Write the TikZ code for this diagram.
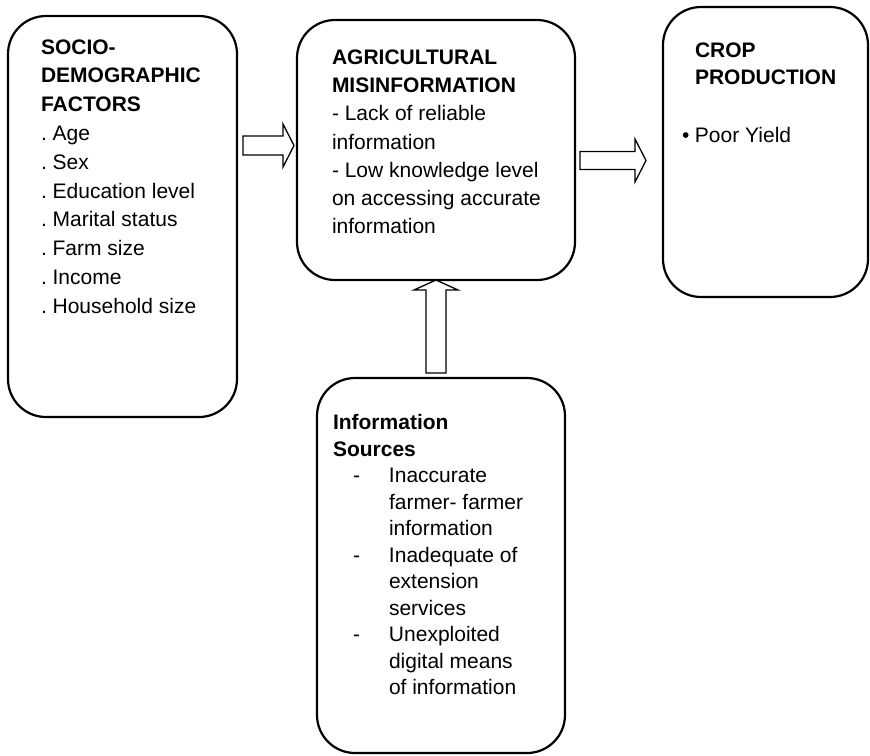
\documentclass[tikz,border=0pt]{standalone}
\usepackage{fontspec}
\setmainfont{Liberation Sans}
\usetikzlibrary{calc}
\frenchspacing
\begin{document}
\begin{tikzpicture}[x=1pt,y=-1pt,
  every node/.style={inner sep=0pt,outer sep=0pt},
  box/.style={draw,line width=2.2pt,rounded corners=38pt,rectangle,anchor=north west},
  txt/.style={anchor=north west,align=left},
  blockarrow/.style={draw,line width=1.3pt,fill=white,line join=miter}]
\useasboundingbox (0,0) rectangle (870,755);
% boxes
\node[box,minimum width=229pt,minimum height=401pt] (b1) at (8,16) {};
\node[box,minimum width=278pt,minimum height=260pt] (b2) at (297,20) {};
\node[box,minimum width=205pt,minimum height=290pt] (b3) at (663,7) {};
\node[box,minimum width=248pt,minimum height=375pt] (b4) at (317,378) {};
% texts
\node[txt,font=\fontsize{21pt}{28.8pt}\selectfont\frenchspacing] (t1) at (41,39.5)
 {\textbf{SOCIO-}\\\textbf{DEMOGRAPHIC}\\\textbf{FACTORS}\\. Age\\. Sex\\. Education level\\. Marital status\\. Farm size\\. Income\\. Household size};
\node[txt,font=\fontsize{21pt}{28.3pt}\selectfont] (t2) at (332,49.5)
 {\textbf{AGRICULTURAL}\\\textbf{MISINFORMATION}\\- Lack of reliable\\information\\- Low knowledge level\\on accessing accurate\\information};
\node[txt,font=\fontsize{21pt}{27pt}\selectfont] (t3) at (695,42.5)
 {\textbf{CROP}\\\textbf{PRODUCTION}};
\node[anchor=base west,font=\fontsize{21pt}{27pt}\selectfont] (t3b) at (682,142.5)
 {\makebox[13pt][l]{•}Poor Yield};
\node[txt,font=\fontsize{21pt}{26.5pt}\selectfont] (t4) at (333,414.5)
 {\textbf{Information}\\\textbf{Sources}\\
  \hspace*{20pt}\makebox[36pt][l]{-}Inaccurate\\
  \hspace*{56pt}farmer- farmer\\
  \hspace*{56pt}information\\
  \hspace*{20pt}\makebox[36pt][l]{-}Inadequate of\\
  \hspace*{56pt}extension\\
  \hspace*{56pt}services\\
  \hspace*{20pt}\makebox[36pt][l]{-}Unexploited\\
  \hspace*{56pt}digital means\\
  \hspace*{56pt}of information};
% arrow end points
\coordinate (a1s) at ($(b1.east)+(6,-71)$);
\coordinate (a1t) at ($(b2.west)+(-3,-4.5)$);
\coordinate (a2s) at ($(b2.east)+(5,10.5)$);
\coordinate (a2t) at ($(b3.west)+(-17,8.5)$);
\coordinate (a3s) at ($(b4.north)+(-5,-5)$);
\coordinate (a3t) at ($(b2.south)+(0,0)$);
% block arrows
\draw[blockarrow] (a1s) ++(0,-9.5) -- ++(40,0) -- ++(0,-12) -- (a1t)
  -- ++(-11,21.5) -- ++(0,-12) -- ++(-40,0) -- cycle;
\draw[blockarrow] (a2s) ++(0,-9) -- ++(55,0) -- ++(0,-12.5) -- (a2t)
  -- ++(-11,21.5) -- ++(0,-12.5) -- ++(-55,0) -- cycle;
\draw[blockarrow] (a3s) ++(-10,0) -- ++(0,-83) -- ++(-12,0) -- (a3t)
  -- ++(22,10) -- ++(-12,0) -- ++(0,83) -- cycle;
\end{tikzpicture}
\end{document}
